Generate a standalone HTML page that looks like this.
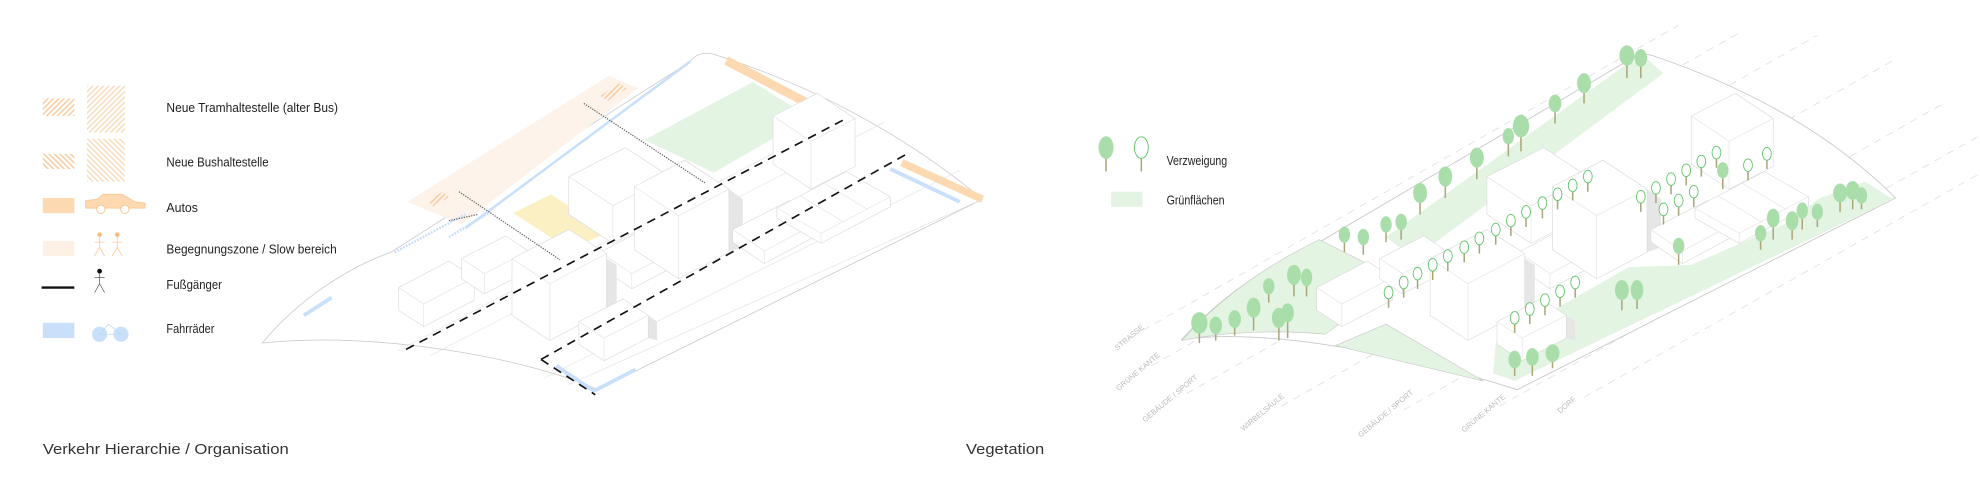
<!DOCTYPE html>
<html><head><meta charset="utf-8"><style>
html,body{margin:0;padding:0;background:#fff;}
svg{display:block;}
.t{font-family:"Liberation Sans Narrow","Liberation Sans",sans-serif;fill:#222;}
.c{font-family:"Liberation Sans",sans-serif;fill:#333;}
.g{font-family:"Liberation Sans Narrow","Liberation Sans",sans-serif;fill:#bbb;font-size:6px;}
.bx{fill:#fff;stroke:#dadada;stroke-width:0.5;}
.ln{fill:none;stroke:#e2e2e2;stroke-width:0.5;}
.ft{fill:#a9deaa;}
.ot{fill:#fff;stroke:#5cc466;stroke-width:0.7;}
.tr{stroke:#a9a67a;stroke-width:1.2;}
</style></head><body>
<svg width="1980" height="478" viewBox="0 0 1568 379" xmlns="http://www.w3.org/2000/svg">
<defs>
<pattern id="hatch" width="3" height="3" patternUnits="userSpaceOnUse" patternTransform="rotate(45)">
<rect width="1.1" height="3" fill="#f7c99a"/></pattern>
<pattern id="hatch2" width="3" height="3" patternUnits="userSpaceOnUse" patternTransform="rotate(-45)">
<rect width="1.1" height="3" fill="#f7c99a"/></pattern>
<g id="bld">
<path class="bx" d="M315,228 L355,207 L375,220 L375,238 L335,259 L315,246 Z"/>
<path class="ln" d="M315,228 L335,241 L375,220 M335,241 L335,259"/>
<path class="bx" d="M365,205 L400,187 L418,199 L418,215 L383,233 L365,221 Z"/>
<path class="ln" d="M365,205 L383,217 L418,199 M383,217 L383,233"/>
<path class="bx" d="M450,140 L495,117 L530,140 L530,170 L485,193 L450,170 Z"/>
<path class="ln" d="M450,140 L485,163 L530,140 M485,163 L485,193"/>
<path class="bx" d="M475,200 L515,179 L540,196 L540,208 L500,229 L475,212 Z"/>
<path class="ln" d="M475,200 L500,217 L540,196 M500,217 L500,229"/>
<polygon points="480,205 488,210 488,250 480,246" fill="#e6e6e6"/>
<path class="bx" d="M405,205 L450,182 L480,201 L480,246 L435,270 L405,250 Z"/>
<path class="ln" d="M405,205 L435,225 L480,201 M435,225 L435,270"/>
<polygon points="577,150 588,158 588,196 577,200" fill="#e6e6e6"/>
<path class="bx" d="M502,148 L542,127 L577,150 L577,200 L537,221 L502,198 Z"/>
<path class="ln" d="M502,148 L537,171 L577,150 M537,171 L537,221"/>
<path class="bx" d="M612,92 L647,74 L677,94 L677,132 L642,150 L612,130 Z"/>
<path class="ln" d="M612,92 L642,112 L677,94 M642,112 L642,150"/>
<path class="bx" d="M580,182 L625,159 L650,175 L650,185 L605,209 L580,192 Z"/>
<path class="ln" d="M580,182 L605,199 L650,175 M605,199 L605,209"/>
<path class="bx" d="M615,165 L670,136 L705,156 L705,164 L650,193 L615,173 Z"/>
<path class="ln" d="M615,165 L650,185 L705,156 M650,185 L650,193 M633,155 L668,176 M652,145 L687,166"/>
<polygon points="513,250 520,255 520,270 513,268" fill="#e6e6e6"/>
<path class="bx" d="M458,255 L493,237 L513,250 L513,268 L478,286 L458,273 Z"/>
<path class="ln" d="M458,255 L478,268 L513,250 M478,268 L478,286"/>
</g>
</defs>

<!-- LEGEND LEFT -->
<rect x="33" y="78" width="25" height="14" fill="url(#hatch)"/>
<rect x="68" y="68" width="30" height="37" fill="url(#hatch)" opacity="0.7"/>
<text class="t" x="131" y="89" font-size="10" textLength="136" lengthAdjust="spacingAndGlyphs">Neue Tramhaltestelle (alter Bus)</text>
<rect x="33" y="122" width="25" height="12" fill="url(#hatch2)"/>
<rect x="68" y="110" width="30" height="34" fill="url(#hatch2)" opacity="0.7"/>
<text class="t" x="131" y="132" font-size="10" textLength="81" lengthAdjust="spacingAndGlyphs">Neue Bushaltestelle</text>
<rect x="33" y="157" width="25" height="12" fill="#fcd9b0"/>
<path d="M67,165 L67,159 L76,158 L81,154 L96,154 L106,160 L114,161 L114,165 Z" fill="#fcd9b0" stroke="#f7c48e" stroke-width="0.6"/>
<circle cx="79" cy="166" r="3.3" fill="#fff" stroke="#f7c48e" stroke-width="0.7"/>
<circle cx="98" cy="166" r="3.3" fill="#fff" stroke="#f7c48e" stroke-width="0.7"/>
<text class="t" x="131" y="168" font-size="10" textLength="25" lengthAdjust="spacingAndGlyphs">Autos</text>
<rect x="33" y="191" width="25" height="12" fill="#fdf1e6"/>
<g stroke="#f9c696" stroke-width="0.6" fill="none"><path d="M78,188 L78,196 L74,203 M78,196 L82,203 M74,192 L82,192"/><path d="M92,188 L92,196 L88,203 M92,196 L96,203 M88,192 L96,192"/></g>
<circle cx="78" cy="186" r="1.8" fill="#f9b77a"/><circle cx="92" cy="186" r="1.8" fill="#f9b77a"/>
<text class="t" x="131" y="201" font-size="10" textLength="135" lengthAdjust="spacingAndGlyphs">Begegnungszone / Slow bereich</text>
<line x1="32" y1="228" x2="58" y2="228" stroke="#111" stroke-width="1.8"/>
<circle cx="78" cy="215" r="1.9" fill="#111"/>
<path d="M78,217 L78,225 L74,232 M78,225 L82,232 M74,220 L82,220" stroke="#444" stroke-width="0.5" fill="none"/>
<text class="t" x="131" y="229" font-size="10" textLength="44" lengthAdjust="spacingAndGlyphs">Fußgänger</text>
<rect x="33" y="256" width="25" height="12" fill="#c9e0fb"/>
<circle cx="78" cy="265" r="6" fill="#c9e0fb"/><circle cx="95" cy="265" r="6" fill="#c9e0fb"/>
<path d="M78,265 L85,257 L95,265 Z" fill="none" stroke="#b6d3f5" stroke-width="0.5"/>
<text class="t" x="131" y="264" font-size="10" textLength="38" lengthAdjust="spacingAndGlyphs">Fahrräder</text>

<text class="c" x="33" y="360" font-size="12" textLength="195" lengthAdjust="spacingAndGlyphs">Verkehr Hierarchie / Organisation</text>
<text class="c" x="765" y="360" font-size="12" textLength="62" lengthAdjust="spacingAndGlyphs">Vegetation</text>

<!-- LEFT MAP -->
<path d="M207,272 C235,238 275,212 309,200 L546,49 Q553,40 565,43 C650,70 720,110 778,158 L473,309 C420,285 300,262 207,272 Z" fill="#fff" stroke="#c8c8c8" stroke-width="0.6"/>
<polygon points="322,160 482,60 505,70 365,178" fill="#fdf3ea"/>
<polygon points="338,160 350,152 355,156 343,164" fill="url(#hatch)"/>
<polygon points="475,76 490,66 496,70 481,80" fill="url(#hatch)"/>
<path d="M368,181 L546,49" stroke="#c9e0fb" stroke-width="2" fill="none"/>
<path d="M312,200 L368,170" stroke="#c9e0fb" stroke-width="2" stroke-dasharray="1.5,1"/>
<path d="M355,188 L388,168" stroke="#c9e0fb" stroke-width="2" stroke-dasharray="1.5,1"/>
<path d="M240,250 L262,236" stroke="#c9e0fb" stroke-width="3"/>
<path d="M440,290 L470,310 L503,293" stroke="#c9e0fb" stroke-width="3" fill="none"/>
<path d="M575,48 L653,89" stroke="#fcd9b0" stroke-width="7"/>
<path d="M714,129 L778,158" stroke="#fcd9b0" stroke-width="6"/>
<path d="M705,134 L760,160" stroke="#c9e0fb" stroke-width="3"/>
<polygon points="510,111 596,65 641,93 565,137" fill="#e3f4e3"/>
<polygon points="406,169 436,154 481,184 451,198" fill="#fbf0c4"/>
<path class="ln" d="M315,278 L668,92 M340,282 L700,97 M430,300 L760,135 M450,305 L778,158"/>
<use href="#bld"/>
<path d="M321,277 L668,95" stroke="#111" stroke-width="1.3" stroke-dasharray="7,5" fill="none"/>
<path d="M428,285 L720,121 M428,285 L471,313" stroke="#111" stroke-width="1.3" stroke-dasharray="7,5" fill="none"/>
<path d="M462,82 L558,145 M363,152 L443,206 M355,175 L378,170" stroke="#555" stroke-width="0.9" stroke-dasharray="1,1" fill="none"/>

<!-- RIGHT MAP -->
<g stroke="#ddd" stroke-width="0.6" stroke-dasharray="6,5" fill="none">
<path d="M905,262 L1330,20"/><path d="M912,290 L1380,25"/><path d="M940,312 L1440,28"/>
<path d="M1015,322 L1500,48"/><path d="M1112,325 L1540,82"/><path d="M1188,322 L1568,108"/>
<path d="M1255,315 L1568,138"/>
</g>
<g class="g">
<text transform="translate(885,278) rotate(-40)">STRASSE</text>
<text transform="translate(886,310) rotate(-40)">GRÜNE KANTE</text>
<text transform="translate(907,335) rotate(-40)">GEBÄUDE / SPORT</text>
<text transform="translate(985,342) rotate(-40)">WIRBELSÄULE</text>
<text transform="translate(1078,347) rotate(-40)">GEBÄUDE / SPORT</text>
<text transform="translate(1160,343) rotate(-40)">GRÜNE KANTE</text>
<text transform="translate(1236,328) rotate(-40)">DORF</text>
</g>
<path d="M936,269 C965,238 1000,212 1040,195 L1290,48 Q1300,40 1312,45 C1400,75 1460,115 1502,157 L1202,309 C1150,292 1020,258 936,269 Z" fill="#fff" stroke="#c8c8c8" stroke-width="0.7"/>
<path d="M936,270 C965,238 1000,212 1045,190 L1085,210 L1090,235 L1050,265 C1020,262 975,262 936,270 Z" fill="#e3f4e3" stroke="#c8c8c8" stroke-width="0.5"/>
<polygon points="1058,274 1098,257 1175,302" fill="#e3f4e3" stroke="#c8c8c8" stroke-width="0.5"/>
<polygon points="1098,188 1290,50 1305,47 1318,58 1120,205" fill="#e3f4e3"/>
<polygon points="1183,296 1200,302 1500,158 1478,144 1440,158 1420,175 1340,210 1290,212 1185,272" fill="#e3f4e3"/>
<g transform="translate(728,0)"><use href="#bld"/></g>
<g>
<g class="tr"><line x1="1289" y1="48" x2="1289" y2="62"/><line x1="1300" y1="50" x2="1300" y2="62"/><line x1="1255" y1="70" x2="1255" y2="82"/><line x1="1232" y1="86" x2="1232" y2="98"/><line x1="1205" y1="105" x2="1205" y2="120"/><line x1="1195" y1="112" x2="1195" y2="124"/><line x1="1170" y1="130" x2="1170" y2="142"/><line x1="1145" y1="145" x2="1145" y2="157"/><line x1="1125" y1="158" x2="1125" y2="170"/><line x1="1110" y1="180" x2="1110" y2="190"/><line x1="1098" y1="182" x2="1098" y2="192"/><line x1="950" y1="262" x2="950" y2="272"/><line x1="963" y1="262" x2="963" y2="270"/><line x1="978" y1="258" x2="978" y2="266"/><line x1="993" y1="250" x2="993" y2="262"/><line x1="1013" y1="258" x2="1013" y2="270"/><line x1="1020" y1="255" x2="1020" y2="268"/><line x1="1025" y1="225" x2="1025" y2="235"/><line x1="1035" y1="225" x2="1035" y2="235"/><line x1="1005" y1="232" x2="1005" y2="240"/><line x1="1065" y1="190" x2="1065" y2="200"/><line x1="1080" y1="192" x2="1080" y2="202"/><line x1="1200" y1="290" x2="1200" y2="298"/><line x1="1214" y1="288" x2="1214" y2="298"/><line x1="1230" y1="285" x2="1230" y2="292"/><line x1="1285" y1="236" x2="1285" y2="246"/><line x1="1297" y1="235" x2="1297" y2="245"/><line x1="1330" y1="200" x2="1330" y2="210"/><line x1="1395" y1="190" x2="1395" y2="198"/><line x1="1405" y1="178" x2="1405" y2="190"/><line x1="1420" y1="180" x2="1420" y2="190"/><line x1="1428" y1="172" x2="1428" y2="182"/><line x1="1440" y1="172" x2="1440" y2="180"/><line x1="1458" y1="158" x2="1458" y2="168"/><line x1="1468" y1="156" x2="1468" y2="166"/><line x1="1475" y1="158" x2="1475" y2="166"/><line x1="1365" y1="140" x2="1365" y2="150"/></g>
<g class="ft"><ellipse cx="1289" cy="44" rx="6" ry="8"/><ellipse cx="1300" cy="46" rx="5" ry="7"/><ellipse cx="1255" cy="66" rx="5.5" ry="8"/><ellipse cx="1232" cy="82" rx="5" ry="7"/><ellipse cx="1205" cy="100" rx="6.5" ry="9"/><ellipse cx="1195" cy="108" rx="4.5" ry="6.5"/><ellipse cx="1170" cy="125" rx="5.5" ry="8"/><ellipse cx="1145" cy="140" rx="5.5" ry="8"/><ellipse cx="1125" cy="153" rx="5.5" ry="8"/><ellipse cx="1110" cy="176" rx="4.5" ry="6.5"/><ellipse cx="1098" cy="178" rx="4.5" ry="6.5"/><ellipse cx="950" cy="256" rx="6.5" ry="8.5"/><ellipse cx="963" cy="258" rx="5" ry="7"/><ellipse cx="978" cy="253" rx="5" ry="7"/><ellipse cx="993" cy="244" rx="5.5" ry="8"/><ellipse cx="1013" cy="252" rx="5.5" ry="8"/><ellipse cx="1020" cy="248" rx="5" ry="7.5"/><ellipse cx="1025" cy="218" rx="5.5" ry="8"/><ellipse cx="1035" cy="220" rx="4.5" ry="7"/><ellipse cx="1005" cy="227" rx="4.5" ry="6.5"/><ellipse cx="1065" cy="186" rx="4.5" ry="6.5"/><ellipse cx="1080" cy="188" rx="4.5" ry="6.5"/><ellipse cx="1200" cy="285" rx="5" ry="7"/><ellipse cx="1214" cy="283" rx="5" ry="7"/><ellipse cx="1230" cy="280" rx="5.5" ry="7"/><ellipse cx="1285" cy="230" rx="5.5" ry="8"/><ellipse cx="1297" cy="230" rx="5" ry="8"/><ellipse cx="1330" cy="195" rx="4.5" ry="6.5"/><ellipse cx="1395" cy="185" rx="4.5" ry="6.5"/><ellipse cx="1405" cy="173" rx="5" ry="7.5"/><ellipse cx="1420" cy="175" rx="5" ry="7.5"/><ellipse cx="1428" cy="167" rx="4.5" ry="6.5"/><ellipse cx="1440" cy="168" rx="4.5" ry="6.5"/><ellipse cx="1458" cy="153" rx="5.5" ry="7.5"/><ellipse cx="1468" cy="151" rx="5.5" ry="7.5"/><ellipse cx="1475" cy="155" rx="4.5" ry="6.5"/><ellipse cx="1365" cy="135" rx="4.5" ry="6.5"/></g>
</g>
<g>
<g class="tr" stroke-width="0.8"><path d="M1100,236v8M1112,228v8M1123,221v8M1135,214v8M1147,207v8M1160,200v8M1172,193v8M1185,186v8M1197,179v8M1209,172v8M1222,165v8M1234,158v8M1246,151v8M1258,144v8M1200,256v8M1212,249v8M1224,242v8M1236,235v8M1248,228v8M1300,160v8M1312,153v8M1324,146v8M1336,139v8M1348,132v8M1360,125v8M1318,170v8M1330,163v8M1342,156v8M1385,135v8M1400,126v8"/></g>
<g class="ot"><ellipse cx="1100" cy="232" rx="3.5" ry="5"/><ellipse cx="1112" cy="224" rx="3.5" ry="5"/><ellipse cx="1123" cy="217" rx="3.5" ry="5"/><ellipse cx="1135" cy="210" rx="3.5" ry="5"/><ellipse cx="1147" cy="203" rx="3.5" ry="5"/><ellipse cx="1160" cy="196" rx="3.5" ry="5"/><ellipse cx="1172" cy="189" rx="3.5" ry="5"/><ellipse cx="1185" cy="182" rx="3.5" ry="5"/><ellipse cx="1197" cy="175" rx="3.5" ry="5"/><ellipse cx="1209" cy="168" rx="3.5" ry="5"/><ellipse cx="1222" cy="161" rx="3.5" ry="5"/><ellipse cx="1234" cy="154" rx="3.5" ry="5"/><ellipse cx="1246" cy="147" rx="3.5" ry="5"/><ellipse cx="1258" cy="140" rx="3.5" ry="5"/><ellipse cx="1200" cy="252" rx="3.5" ry="5"/><ellipse cx="1212" cy="245" rx="3.5" ry="5"/><ellipse cx="1224" cy="238" rx="3.5" ry="5"/><ellipse cx="1236" cy="231" rx="3.5" ry="5"/><ellipse cx="1248" cy="224" rx="3.5" ry="5"/><ellipse cx="1300" cy="156" rx="3.5" ry="5"/><ellipse cx="1312" cy="149" rx="3.5" ry="5"/><ellipse cx="1324" cy="142" rx="3.5" ry="5"/><ellipse cx="1336" cy="135" rx="3.5" ry="5"/><ellipse cx="1348" cy="128" rx="3.5" ry="5"/><ellipse cx="1360" cy="121" rx="3.5" ry="5"/><ellipse cx="1318" cy="166" rx="3.5" ry="5"/><ellipse cx="1330" cy="159" rx="3.5" ry="5"/><ellipse cx="1342" cy="152" rx="3.5" ry="5"/><ellipse cx="1385" cy="131" rx="3.5" ry="5"/><ellipse cx="1400" cy="122" rx="3.5" ry="5"/></g>
</g>

<!-- RIGHT LEGEND -->
<line x1="876" y1="124" x2="876" y2="136" class="tr"/>
<ellipse cx="876" cy="117" rx="6" ry="9" class="ft"/>
<line x1="904" y1="124" x2="904" y2="136" class="tr"/>
<ellipse cx="904" cy="117" rx="5.5" ry="8.5" class="ot"/>
<text class="t" x="924" y="131" font-size="10" textLength="48" lengthAdjust="spacingAndGlyphs">Verzweigung</text>
<rect x="880" y="152" width="25" height="12" fill="#e3f4e3"/>
<text class="t" x="924" y="162" font-size="10" textLength="46" lengthAdjust="spacingAndGlyphs">Grünflächen</text>
</svg>
</body></html>
